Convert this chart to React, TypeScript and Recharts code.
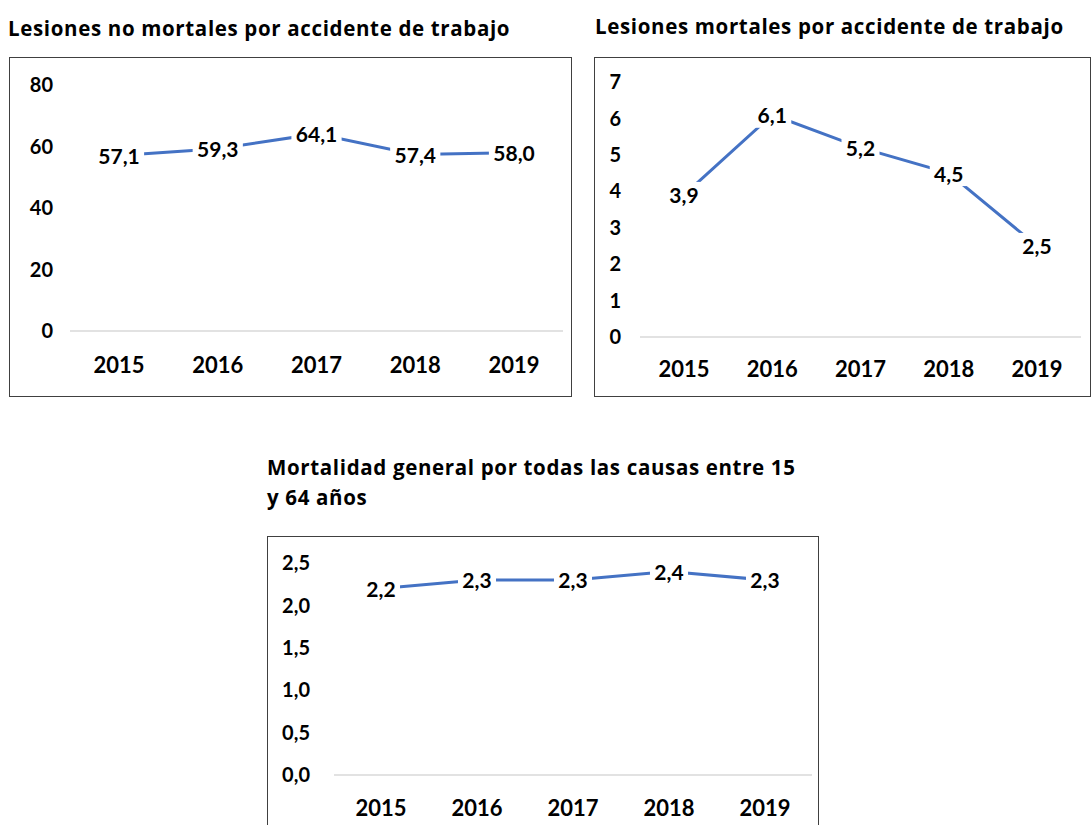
import { LineChart, Line, XAxis, YAxis, LabelList } from "recharts";

const years = ["2015", "2016", "2017", "2018", "2019"];
const lesionesNoMortales = [57.1, 59.3, 64.1, 57.4, 58.0];
const lesionesMortales = [3.9, 6.1, 5.2, 4.5, 2.5];
const mortalidadGeneral = [2.2, 2.3, 2.3, 2.4, 2.3];

const ticksNoMortales = [0, 20, 40, 60, 80];
const ticksMortales = [0, 1, 2, 3, 4, 5, 6, 7];
const ticksMortalidad = [0, 0.5, 1, 1.5, 2, 2.5];

const FONT = "Lato, 'Open Sans', sans-serif";
const TITLE_FONT = "'Open Sans', Lato, sans-serif";
const BLUE = "#4472C4";

const fmt1 = (v: number) => v.toFixed(1).replace(".", ",");

type ChartProps = {
  values: number[];
  ticks: number[];
  tickFmt: (v: number) => string;
  left: number;
  top: number;
  width: number;
  height: number;
  margin: { top: number; right: number; bottom: number; left: number };
  yWidth: number;
  yMargin: number;
  xMargin: number;
  half: number;
};

function PointLabel(props: any) {
  const { x, y, value } = props;
  const text = fmt1(value);
  const fs = 21;
  const w = fs * (0.58 * (text.length - 1) + 0.27) + 8;
  const h = 26;
  return (
    <g>
      <rect x={x - w / 2} y={y - h / 2} width={w} height={h} fill="#fff" />
      <text
        x={x}
        y={y}
        textAnchor="middle"
        dominantBaseline="central"
        fontFamily={FONT}
        fontWeight={700}
        fontSize={fs}
        fill="#000"
      >
        {text}
      </text>
    </g>
  );
}

function MiniChart(p: ChartProps) {
  const data = years.map((year, i) => ({ year, value: p.values[i] }));
  return (
    <div style={{ position: "absolute", left: p.left, top: p.top, width: p.width, height: p.height }}>
      <div
        style={{
          position: "absolute",
          inset: 0,
          border: "1.5px solid #404040",
          boxSizing: "border-box",
        }}
      />
      <LineChart width={p.width} height={p.height} data={data} margin={p.margin}>
        <XAxis
          dataKey="year"
          tickLine={false}
          axisLine={{ stroke: "#d9d9d9", strokeWidth: 1.5 }}
          padding={{ left: p.half, right: p.half }}
          height={40}
          tickMargin={p.xMargin}
          tick={{ fontFamily: FONT, fontWeight: 700, fontSize: 22, fill: "#000" }}
        />
        <YAxis
          domain={[p.ticks[0], p.ticks[p.ticks.length - 1]]}
          ticks={p.ticks}
          tickFormatter={p.tickFmt}
          width={p.yWidth}
          axisLine={false}
          tickLine={false}
          tickMargin={p.yMargin}
          interval={0}
          tick={{ fontFamily: FONT, fontWeight: 700, fontSize: 20, fill: "#000" }}
        />
        <Line dataKey="value" stroke={BLUE} strokeWidth={3} dot={false} isAnimationActive={false}>
          <LabelList dataKey="value" content={<PointLabel />} />
        </Line>
      </LineChart>
    </div>
  );
}

const titleStyle: React.CSSProperties = {
  position: "absolute",
  fontFamily: TITLE_FONT,
  fontWeight: 700,
  fontSize: 20.5,
  letterSpacing: 0.65,
  color: "#000",
  lineHeight: "30px",
  whiteSpace: "nowrap",
};

export default function App() {
  return (
    <div style={{ position: "relative", width: 1092, height: 825, overflow: "hidden", background: "#fff" }}>
      <style>{"body{margin:0}"}</style>
      <div style={{ ...titleStyle, left: 8, top: 13 }}>Lesiones no mortales por accidente de trabajo</div>
      <div style={{ ...titleStyle, left: 595, top: 11 }}>Lesiones mortales por accidente de trabajo</div>
      <div style={{ ...titleStyle, left: 267, top: 452 }}>
        Mortalidad general por todas las causas entre 15
        <br />y 64 años
      </div>

      <MiniChart
        values={lesionesNoMortales}
        ticks={ticksNoMortales}
        tickFmt={(v) => String(v)}
        left={9}
        top={57}
        width={563}
        height={340}
        margin={{ top: 28, right: 9, bottom: 26, left: 0 }}
        yWidth={61}
        yMargin={11}
        xMargin={20}
        half={49}
      />
      <MiniChart
        values={lesionesMortales}
        ticks={ticksMortales}
        tickFmt={(v) => String(v)}
        left={594}
        top={57}
        width={497}
        height={340}
        margin={{ top: 25, right: 10, bottom: 20, left: 0 }}
        yWidth={46}
        yMargin={13}
        xMargin={18}
        half={44}
      />
      <MiniChart
        values={mortalidadGeneral}
        ticks={ticksMortalidad}
        tickFmt={fmt1}
        left={267}
        top={536}
        width={552}
        height={300}
        margin={{ top: 27, right: 7, bottom: 21, left: 0 }}
        yWidth={67}
        yMargin={18}
        xMargin={19}
        half={47}
      />
    </div>
  );
}
